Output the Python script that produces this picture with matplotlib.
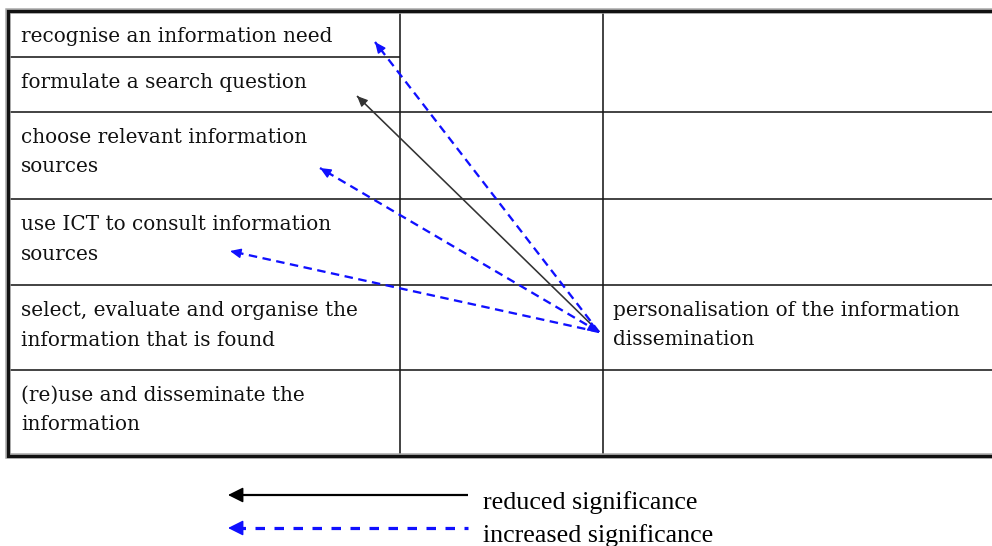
import numpy as np
import matplotlib
matplotlib.use("Agg")
import matplotlib.pyplot as plt

plt.rcParams['lines.scale_dashes'] = False

# ---- content ----
steps = [
    "recognise an information need",
    "formulate a search question",
    "choose relevant information\nsources",
    "use ICT to consult information\nsources",
    "select, evaluate and organise the\ninformation that is found",
    "(re)use and disseminate the\ninformation",
]
right_cell_text = "personalisation of the information\ndissemination"
right_cell_row = 4
arrow_target_rows = [0, 1, 2, 3]
arrow_kinds = ["increased", "reduced", "increased", "increased"]
legend_labels = ["reduced significance", "increased significance"]

# ---- layout (pixels) ----
W, H = 992, 546
row_edges = [11, 57, 112, 199, 285, 370, 456]
col_edges = [8, 400, 603]
arrow_origin = (599, 332)
arrow_tips = [(375, 42), (357, 96), (320, 168), (230, 251)]

BLUE = '#1010ff'
DARK = '#333333'
px = 72 / 100.0  # points per pixel at dpi 100

fig = plt.figure(figsize=(W / 100, H / 100), dpi=100)
ax = fig.add_axes([0, 0, 1, 1])
ax.set_xlim(0, W)
ax.set_ylim(H, 0)
ax.axis('off')

# inner grid lines
ilw = 1.6 * px
ax.plot([col_edges[0], col_edges[1]], [row_edges[1]] * 2, color='#1a1a1a', lw=ilw, solid_capstyle='butt')
for y in row_edges[2:-1]:
    ax.plot([col_edges[0], W], [y, y], color='#1a1a1a', lw=ilw, solid_capstyle='butt')
for x in col_edges[1:]:
    ax.plot([x, x], [row_edges[0], row_edges[-1]], color='#1a1a1a', lw=ilw, solid_capstyle='butt')

# outer thick border (3D look)
for lw, col in [(5.5 * px, '#a8a8a8'), (3.2 * px, '#111111')]:
    ax.plot([W + 5, col_edges[0], col_edges[0], W + 5],
            [row_edges[0], row_edges[0], row_edges[-1], row_edges[-1]],
            color=col, lw=lw, solid_joinstyle='miter', solid_capstyle='butt')

# cell texts
tfont = dict(family='DejaVu Serif', size=14.4, color='#111')
line_gap = 29.5
for i, s in enumerate(steps):
    base = row_edges[i] + 31
    for j, line in enumerate(s.split("\n")):
        ax.text(21, base + j * line_gap, line, va='baseline', ha='left', **tfont)
for j, line in enumerate(right_cell_text.split("\n")):
    ax.text(613, row_edges[right_cell_row] + 30.5 + j * line_gap, line,
            va='baseline', ha='left', **tfont)


def head(tip, frm, color, hl, hw, lw):
    tip = np.array(tip, float)
    frm = np.array(frm, float)
    u = (tip - frm) / np.linalg.norm(tip - frm)
    start = tip - u * (hl + 2)
    ax.annotate('', xy=tuple(tip), xytext=tuple(start),
                arrowprops=dict(arrowstyle=f'-|>,head_length={hl * px},head_width={hw / 2 * px}',
                                color=color, lw=lw, shrinkA=0, shrinkB=0,
                                mutation_scale=1))


# arrows
for tip, kind in zip(arrow_tips, arrow_kinds):
    if kind == "reduced":
        ax.plot([arrow_origin[0], tip[0]], [arrow_origin[1], tip[1]],
                color=DARK, lw=1.6 * px, solid_capstyle='butt')
        head(tip, arrow_origin, DARK, 9, 8, 1.2 * px)
    else:
        ax.plot([arrow_origin[0], tip[0]], [arrow_origin[1], tip[1]],
                color=BLUE, lw=2.3 * px, dashes=(8.5 * px, 5.5 * px), dash_capstyle='butt')
        head(tip, arrow_origin, BLUE, 9, 8, 1.5 * px)
# small head at origin
head(arrow_origin, arrow_tips[2], BLUE, 9, 8, 1.5 * px)

# legend
lx0, lx1 = 228, 468
ly = [495, 528]
ax.plot([lx0 + 8, lx1], [ly[0]] * 2, color='black', lw=2.2 * px, solid_capstyle='butt')
head((lx0, ly[0]), (lx1, ly[0]), 'black', 13, 13, 1.5 * px)
ax.plot([lx0 + 8, lx1], [ly[1]] * 2, color=BLUE, lw=3.2 * px,
        dashes=(9.5 * px, 9.5 * px), dash_capstyle='butt')
head((lx0, ly[1]), (lx1, ly[1]), BLUE, 13, 13, 1.5 * px)
lfont = dict(family='Liberation Serif', size=18.7, color='black')
ax.text(483, 509, legend_labels[0], va='baseline', ha='left', **lfont)
ax.text(483, 542, legend_labels[1], va='baseline', ha='left', **lfont)

fig.savefig('out.png', dpi=100)
